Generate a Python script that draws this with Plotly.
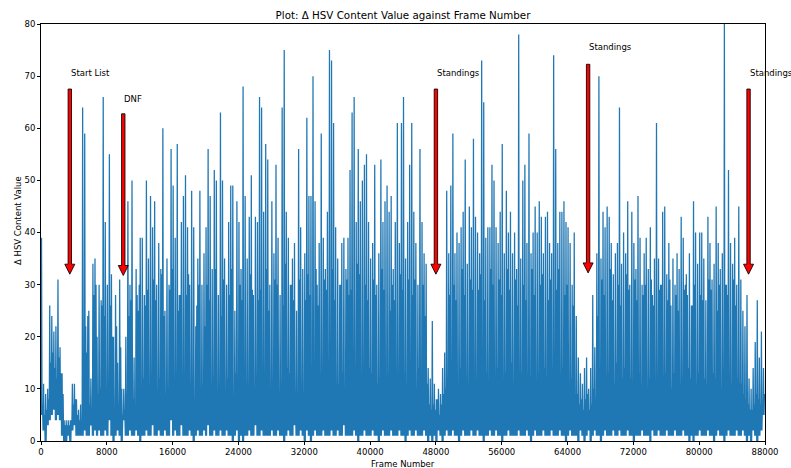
import plotly.graph_objects as go

# ---------------- data ----------------
BIN = 250  # frames per bin; each bin holds a main peak, a secondary peak and a trough

peak_a = [
    39, 11, 9, 10, 26, 24, 21, 22, 31, 18,
    13, 4, 4, 4, 4, 11, 11, 8, 6, 7,
    64, 59, 17, 25, 12, 34, 35, 20, 30, 27,
    66, 42, 30, 55, 32, 20, 28, 15, 31, 10,
    10, 20, 46, 30, 50, 16, 33, 25, 39, 39,
    28, 50, 35, 47, 41, 46, 30, 38, 33, 60,
    25, 35, 30, 56, 49, 39, 57, 28, 42, 47,
    51, 41, 30, 48, 41, 22, 35, 48, 30, 36,
    41, 56, 47, 33, 52, 50, 28, 63, 50, 35,
    30, 42, 49, 49, 25, 46, 42, 33, 68, 47,
    35, 43, 51, 28, 43, 42, 66, 64, 44, 57,
    54, 30, 46, 36, 53, 39, 28, 64, 75, 44,
    39, 30, 35, 38, 25, 56, 41, 33, 36, 62,
    47, 47, 70, 46, 30, 38, 59, 39, 33, 44,
    75, 73, 61, 41, 35, 30, 38, 39, 33, 39,
    52, 63, 66, 42, 56, 46, 50, 53, 55, 42,
    35, 38, 53, 30, 36, 54, 42, 46, 49, 44,
    47, 33, 42, 61, 38, 61, 66, 35, 42, 53,
    61, 44, 38, 30, 56, 42, 36, 34, 14, 12,
    23, 11, 8, 10, 9, 14, 17, 48, 36, 49,
    59, 36, 40, 38, 41, 44, 54, 34, 45, 41,
    58, 43, 40, 36, 73, 65, 39, 41, 41, 53,
    50, 41, 38, 44, 57, 36, 48, 40, 44, 36,
    40, 33, 78, 35, 50, 53, 38, 59, 36, 40,
    45, 40, 46, 43, 36, 43, 44, 38, 36, 74,
    56, 38, 44, 44, 46, 42, 41, 38, 30, 40,
    24, 16, 13, 11, 14, 16, 10, 14, 28, 18,
    36, 70, 35, 44, 41, 45, 43, 38, 32, 36,
    38, 64, 34, 40, 36, 46, 30, 44, 38, 33,
    47, 39, 30, 36, 39, 33, 41, 28, 35, 61,
    35, 30, 44, 45, 32, 38, 26, 35, 30, 36,
    33, 43, 39, 30, 28, 36, 26, 46, 40, 34,
    40, 40, 35, 27, 43, 38, 31, 34, 45, 38,
    33, 36, 80, 30, 52, 38, 34, 39, 30, 45,
    31, 25, 22, 28, 12, 10, 14, 19, 27, 16, 21, 14,
]

peak_b = [
    7, 5, 6, 8, 15, 17, 14, 12, 16, 13,
    9, 3, 3, 3, 4, 7, 8, 5, 4, 4,
    9, 22, 24, 7, 6, 28, 30, 9, 10, 26,
    24, 7, 8, 26, 20, 5, 22, 7, 18, 5,
    6, 9, 24, 27, 8, 7, 28, 30, 10, 12,
    26, 29, 8, 9, 31, 27, 8, 12, 32, 24,
    9, 10, 29, 33, 6, 8, 25, 28, 11, 7,
    28, 32, 8, 10, 7, 26, 30, 9, 11, 22,
    30, 27, 9, 12, 33, 8, 10, 24, 31, 9,
    12, 28, 33, 8, 13, 9, 30, 27, 8, 11,
    10, 32, 29, 8, 12, 27, 29, 9, 11, 33,
    25, 9, 10, 31, 30, 7, 7, 26, 34, 14,
    13, 30, 27, 8, 9, 31, 11, 9, 27, 32,
    28, 10, 9, 33, 26, 13, 10, 31, 29, 8,
    15, 33, 27, 9, 11, 30, 13, 8, 31, 28,
    29, 11, 12, 34, 32, 10, 12, 30, 27, 14,
    13, 31, 28, 11, 12, 33, 29, 10, 13, 25,
    30, 27, 12, 11, 32, 29, 13, 10, 31, 12,
    28, 31, 10, 14, 12, 30, 24, 11, 7, 6,
    7, 6, 8, 5, 7, 9, 10, 12, 28, 14,
    30, 27, 11, 14, 33, 28, 12, 11, 31, 29,
    13, 12, 29, 32, 11, 27, 13, 10, 33, 30,
    12, 14, 31, 28, 10, 13, 33, 29, 15, 11,
    31, 26, 12, 13, 30, 27, 11, 12, 33, 28,
    11, 13, 30, 32, 14, 12, 27, 31, 14, 10,
    29, 33, 12, 14, 28, 30, 11, 12, 26, 9,
    9, 7, 8, 6, 8, 9, 6, 7, 10, 8,
    24, 14, 31, 28, 11, 13, 33, 27, 11, 15,
    30, 26, 12, 14, 32, 29, 12, 10, 31, 27,
    13, 11, 28, 30, 10, 12, 31, 26, 11, 12,
    29, 30, 12, 13, 27, 31, 10, 13, 28, 25,
    11, 12, 29, 32, 14, 12, 26, 30, 11, 13,
    28, 27, 12, 11, 31, 29, 13, 12, 25, 30,
    10, 14, 30, 28, 12, 11, 31, 26, 12, 11,
    11, 9, 8, 7, 6, 6, 7, 9, 8, 7, 7, 9,
]

trough = [
    5, 2, 0, 3, 4, 5, 6, 4, 5, 4,
    1, 0, 0, 1, 0, 2, 3, 1, 1, 1,
    1, 2, 1, 1, 3, 1, 2, 1, 2, 1,
    1, 2, 1, 4, 1, 0, 1, 2, 1, 0,
    4, 1, 1, 2, 1, 1, 2, 1, 0, 1,
    1, 2, 1, 1, 3, 1, 1, 2, 1, 1,
    2, 1, 1, 4, 1, 2, 1, 1, 3, 1,
    1, 1, 2, 1, 0, 1, 2, 1, 1, 2,
    1, 3, 1, 1, 2, 1, 1, 2, 1, 1,
    2, 1, 1, 0, 1, 2, 0, 1, 0, 1,
    1, 2, 1, 1, 3, 1, 1, 2, 1, 1,
    1, 1, 2, 1, 1, 2, 1, 1, 0, 1,
    2, 1, 1, 3, 1, 1, 2, 1, 0, 2,
    1, 0, 1, 2, 1, 1, 1, 2, 1, 1,
    1, 2, 1, 1, 2, 1, 1, 3, 1, 1,
    1, 1, 2, 1, 0, 1, 1, 2, 1, 1,
    1, 2, 1, 1, 0, 1, 2, 1, 1, 1,
    2, 1, 1, 1, 2, 1, 1, 0, 1, 2,
    1, 1, 2, 1, 1, 1, 2, 1, 0, 1,
    0, 1, 0, 2, 1, 0, 1, 2, 1, 1,
    2, 1, 1, 0, 1, 2, 1, 1, 1, 2,
    1, 1, 2, 1, 1, 0, 1, 1, 2, 1,
    1, 2, 1, 1, 0, 1, 1, 2, 1, 1,
    1, 1, 2, 1, 1, 1, 2, 1, 0, 1,
    2, 1, 1, 1, 2, 1, 1, 1, 2, 1,
    1, 1, 2, 1, 1, 0, 1, 2, 1, 1,
    1, 0, 2, 1, 0, 1, 2, 0, 1, 2,
    1, 1, 0, 1, 2, 1, 1, 1, 2, 1,
    1, 2, 1, 1, 1, 2, 1, 1, 0, 1,
    1, 1, 2, 1, 1, 1, 0, 2, 1, 1,
    2, 1, 1, 1, 2, 1, 1, 1, 2, 1,
    1, 1, 2, 1, 1, 0, 1, 0, 1, 1,
    2, 1, 1, 1, 2, 1, 1, 0, 1, 2,
    1, 1, 0, 1, 2, 1, 1, 1, 2, 1,
    1, 2, 1, 0, 1, 0, 2, 1, 0, 1, 2, 5,
]

# annotations
ann_labels = ["Start List", "DNF", "Standings", "Standings", "Standings"]
ann_x = [3500, 10000, 48000, 66500, 86000]
ann_text_y = [70, 65, 70, 75, 70]
ann_point_y = [30, 30, 30, 30, 30]
ARROW_SHRINK = 0.05

x_ticks = [0, 8000, 16000, 24000, 32000, 40000, 48000, 56000, 64000, 72000, 80000, 88000]
y_ticks = [0, 10, 20, 30, 40, 50, 60, 70, 80]

# ---------------- build series ----------------
frames, values = [], []
for i in range(len(peak_a)):
    f0 = i * BIN
    frames += [f0, f0 + BIN * 0.25, f0 + BIN * 0.5, f0 + BIN * 0.75]
    values += [trough[i], peak_a[i], trough[i], peak_b[i]]

W, H = 791, 468
ML, MR, MT, MB = 41, 26, 24, 27
plot_h = H - MT - MB
Y_MAX = 80
units_per_px = Y_MAX / plot_h

FONT = "DejaVu Sans"
SMALL = 8.5

fig = go.Figure()
fig.add_trace(go.Scatter(
    x=frames, y=values, mode="lines",
    line=dict(color="#1f77b4", width=1.27, simplify=False),
    hoverinfo="skip", showlegend=False,
))

# arrows (red, black outline)
body_hw, head_hw, head_len_px = 1.7, 5.0, 10.0
shapes = []
for x, ty, py in zip(ann_x, ann_text_y, ann_point_y):
    length = ty - py
    tail = ty - ARROW_SHRINK * length - 2.5 * units_per_px
    tip = py + ARROW_SHRINK * length
    hb = tip + head_len_px * units_per_px
    path = (f"M{-body_hw},{tail} L{body_hw},{tail} L{body_hw},{hb} L{head_hw},{hb} "
            f"L0,{tip} L{-head_hw},{hb} L{-body_hw},{hb} Z")
    shapes.append(dict(type="path", xref="x", yref="y", xsizemode="pixel", xanchor=x,
                       path=path, fillcolor="#ff0000", line=dict(color="black", width=0.85),
                       layer="above"))

annotations = []
for lab, x, ty in zip(ann_labels, ann_x, ann_text_y):
    annotations.append(dict(x=x, y=ty, xref="x", yref="y", text=lab, showarrow=False,
                            xanchor="left", yanchor="bottom", yshift=-4, xshift=-1,
                            font=dict(size=SMALL, color="black")))

# axis titles
annotations.append(dict(x=0.5, y=0, xref="paper", yref="paper", text="Frame Number",
                        showarrow=False, xanchor="center", yanchor="middle", yshift=-23,
                        font=dict(size=SMALL, color="black")))
annotations.append(dict(x=0, y=0.5, xref="paper", yref="paper", text="Δ HSV Content Value",
                        showarrow=False, xanchor="center", yanchor="middle", xshift=-23.5,
                        yshift=12, textangle=-90, font=dict(size=SMALL, color="black")))

fig.update_layout(
    width=W, height=H,
    margin=dict(l=ML, r=MR, t=MT, b=MB),
    paper_bgcolor="white", plot_bgcolor="white",
    font=dict(family=FONT, size=SMALL, color="black"),
    title=dict(text="Plot: Δ HSV Content Value against Frame Number",
               x=0.5, xref="paper", xanchor="center",
               y=1 - 15.5 / H, yref="container", yanchor="middle",
               font=dict(size=10.3, color="black")),
    shapes=shapes, annotations=annotations, showlegend=False,
)
axis_common = dict(showgrid=False, zeroline=False, showline=True, mirror=True,
                   linecolor="black", linewidth=0.8, ticks="outside", ticklen=3,
                   tickwidth=0.8, tickcolor="black", tickfont=dict(size=SMALL, color="black"))
fig.update_xaxes(range=[0, 88000], tickvals=x_ticks, ticktext=[str(t) for t in x_ticks],
                 **axis_common)
fig.update_yaxes(range=[0, Y_MAX], tickvals=y_ticks, ticktext=[str(t) for t in y_ticks],
                 **axis_common)

fig.write_html("out.html")
